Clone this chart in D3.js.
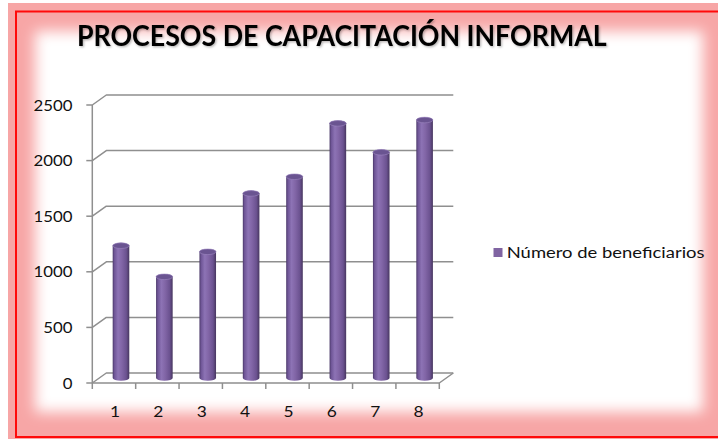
<!DOCTYPE html>
<html><head><meta charset="utf-8">
<script src="https://cdn.jsdelivr.net/npm/d3@7"></script>
<style>body{margin:0;background:#fff}svg{display:block}</style>
</head><body>
<svg id="chart" width="718" height="439"></svg>
<script>
// Chart content
const title = "PROCESOS DE CAPACITACIÓN INFORMAL";
const seriesName = "Número de beneficiarios";
const categories = ["1", "2", "3", "4", "5", "6", "7", "8"];
const beneficiarios = [1190, 910, 1135, 1660, 1810, 2290, 2030, 2320];
const yTicks = [0, 500, 1000, 1500, 2000, 2500];

const svg = d3.select("#chart");
const defs = svg.append("defs");

// Plot geometry (front plane) and the 3-D depth offset of the back wall
const plot = { left: 92.3, right: 439.3, top: 105, bottom: 383 };
const depth = { dx: 14, dy: -10 };
const stretch = 1.12; // horizontal stretch of the glyphs

const x = d3.scaleBand().domain(categories).range([plot.left, plot.right]);
const y = d3.scaleLinear().domain([0, 2500]).range([plot.bottom, plot.top]);

// ---- Frame: pink border with a soft inner glow and a red rule ----
defs.append("filter").attr("id", "soft").attr("x", "-10%").attr("y", "-10%")
  .attr("width", "120%").attr("height", "120%")
  .append("feGaussianBlur").attr("stdDeviation", 7);
const shadow = defs.append("filter").attr("id", "tshadow");
shadow.append("feDropShadow").attr("dx", 1.2).attr("dy", 1.2)
  .attr("stdDeviation", 0.9).attr("flood-color", "#000").attr("flood-opacity", 0.3);

svg.append("rect").attr("x", 8).attr("y", 3).attr("width", 740).attr("height", 460)
  .attr("fill", "#f7a6a6");
svg.append("rect").attr("x", 35).attr("y", 31).attr("width", 668).attr("height", 381)
  .attr("fill", "#fff").attr("filter", "url(#soft)");
svg.append("rect").attr("x", 16).attr("y", 11.5).attr("width", 740).attr("height", 425.5)
  .attr("fill", "none").attr("stroke", "#ff0a0a").attr("stroke-width", 2);

// ---- Title ----
const t = svg.append("text").text(title)
  .attr("font-family", "Lato, 'Open Sans', sans-serif").attr("font-weight", 700)
  .attr("font-size", 28).attr("fill", "#000").attr("filter", "url(#tshadow)");
{
  const w = t.node().getComputedTextLength();
  t.attr("transform", `translate(77,46) scale(${530 / w},1)`);
}

// ---- Walls and gridlines ----
const grid = svg.append("g").attr("fill", "none").attr("stroke", "#8f8f8f")
  .attr("stroke-width", 1.5).attr("stroke-linejoin", "round");

grid.selectAll("path.grid").data(yTicks).join("path").attr("class", "grid")
  .attr("d", v => {
    const yy = y(v);
    return `M${plot.left},${yy}L${plot.left + depth.dx},${yy + depth.dy}L${plot.right + depth.dx},${yy + depth.dy}`;
  });

// floor front edge and right edge
grid.append("path")
  .attr("d", `M${plot.left},${y(0)}L${plot.right},${y(0)}L${plot.right + depth.dx},${y(0) + depth.dy}`);

// value axis line
grid.append("line").attr("x1", plot.left).attr("x2", plot.left)
  .attr("y1", y(2500)).attr("y2", y(0));

// value axis ticks
grid.selectAll("line.ytick").data(yTicks).join("line").attr("class", "ytick")
  .attr("x1", plot.left - 6).attr("x2", plot.left)
  .attr("y1", v => y(v)).attr("y2", v => y(v));

// category ticks on band boundaries
const bounds = categories.map(c => x(c)).concat([x(categories[categories.length - 1]) + x.bandwidth()]);
grid.selectAll("line.xtick").data(bounds).join("line").attr("class", "xtick")
  .attr("x1", d => d).attr("x2", d => d)
  .attr("y1", y(0)).attr("y2", y(0) + 6);

// ---- Labels ----
const lab = svg.append("g").attr("font-family", "Lato, 'Open Sans', sans-serif")
  .attr("fill", "#111");

lab.selectAll("text.ylab").data(yTicks).join("text").attr("class", "ylab")
  .attr("font-size", 15).attr("text-anchor", "end")
  .attr("transform", v => `translate(72.5,${y(v) + 5.5}) scale(${stretch},1)`)
  .text(v => v);

lab.selectAll("text.xlab").data(categories).join("text").attr("class", "xlab")
  .attr("font-size", 15.5).attr("text-anchor", "middle")
  .attr("transform", c => `translate(${x(c) + x.bandwidth() / 2 + 1},${y(0) + 33.5}) scale(${stretch},1)`)
  .text(c => c);

// ---- Cylinders ----
const grad = defs.append("linearGradient").attr("id", "cyl")
  .attr("x1", 0).attr("x2", 1).attr("y1", 0).attr("y2", 0);
[[0, "#4a3868"], [0.1, "#6e5596"], [0.32, "#8d73b5"], [0.55, "#8165a6"],
 [0.82, "#6b5290"], [1, "#47365f"]].forEach(([o, c]) =>
  grad.append("stop").attr("offset", o).attr("stop-color", c));

const rx = 8.3, ry = 2.8;
const bars = svg.append("g");
const data = categories.map((c, i) => ({ c, v: beneficiarios[i] }));

bars.selectAll("path.body").data(data).join("path").attr("class", "body")
  .attr("fill", "url(#cyl)")
  .attr("d", d => {
    const cx = x(d.c) + x.bandwidth() / 2 + depth.dx / 2;
    const yb = y(0) + depth.dy / 2, yt = y(d.v) + depth.dy / 2;
    return `M${cx - rx},${yb}L${cx - rx},${yt}A${rx},${ry} 0 0 1 ${cx + rx},${yt}` +
      `L${cx + rx},${yb}A${rx},${ry} 0 0 1 ${cx - rx},${yb}Z`;
  });

bars.selectAll("ellipse.top").data(data).join("ellipse").attr("class", "top")
  .attr("cx", d => x(d.c) + x.bandwidth() / 2 + depth.dx / 2)
  .attr("cy", d => y(d.v) + depth.dy / 2)
  .attr("rx", rx).attr("ry", ry)
  .attr("fill", "#6a5491").attr("stroke", "#9c86bf").attr("stroke-width", 0.6);

// ---- Legend ----
svg.append("rect").attr("x", 493.5).attr("y", 248).attr("width", 9).attr("height", 9)
  .attr("fill", "#8064a2");
const lt = svg.append("text").text(seriesName)
  .attr("font-family", "Lato, 'Open Sans', sans-serif").attr("font-size", 16)
  .attr("fill", "#111");
{
  const w = lt.node().getComputedTextLength();
  lt.attr("transform", `translate(506.7,257.7) scale(${198 / w},1)`);
}
</script>
</body></html>
